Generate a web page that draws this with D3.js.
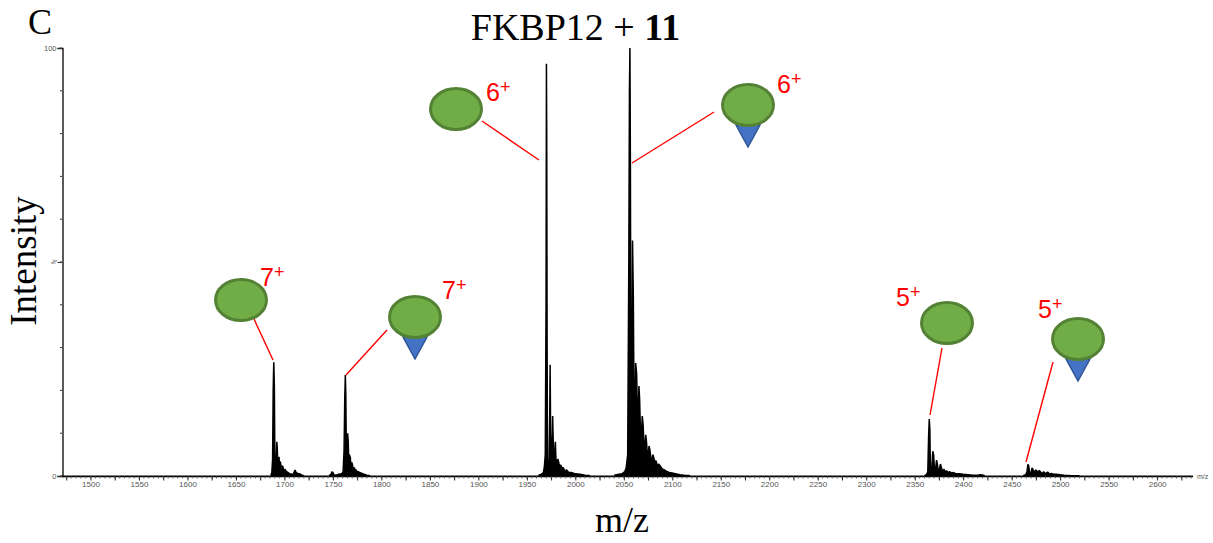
<!DOCTYPE html>
<html><head><meta charset="utf-8">
<script src="https://cdnjs.cloudflare.com/ajax/libs/d3/7.8.5/d3.min.js"></script>
<style>html,body{margin:0;padding:0;background:#fff}svg{display:block}</style></head>
<body><svg id="c" width="1213" height="543"></svg>
<script>
// m/z and relative intensity of the spectrum
const mz7a=[1686,1687,1687.8,1688.4,1689,1689.6,1690.2,1690.8,1691.5,1692.1,1692.6,1693.2,1693.8,1694.4,1695,1695.6,1696.2,1697,1698,1698.6,1699.6,1700.5,1701.5,1703,1705,1707,1709,1710,1711,1712,1714,1716,1718,1720];
const in7a=[0.2,0.8,4,20,26.6,21,2,1.5,3,8,6.5,1.5,2,4.5,1.2,3.4,2.8,1,2.4,2,0.8,1.6,1.2,0.9,0.6,0.4,0.4,0.9,1.4,0.8,0.6,0.5,0.2,0.1];
const mz7b=[1746,1748,1749,1750,1751,1753,1756,1759,1760.5,1761.5,1762.2,1762.8,1763.3,1763.9,1764.6,1765.2,1765.8,1766.4,1767,1768,1768.6,1769.4,1770.2,1771,1772,1773,1774,1775,1776,1778,1780,1782,1785,1788];
const in7b=[0.1,0.4,1,0.8,0.3,0.2,0.4,0.5,1,6,18,23.6,19,3,4,10,8,3,5,4.2,1.8,3.2,2.6,1.4,2,1.4,1.4,1,1,0.8,0.6,0.4,0.2,0.1];
const mz6a=[1962,1965,1967,1968,1969,1969.8,1970.2,1970.5,1970.9,1971.3,1972,1973,1973.6,1974,1974.5,1975.2,1976,1976.6,1977.1,1978,1978.8,1979.4,1980,1981,1982,1983,1984,1985,1986,1987.5,1989,1991,1993,1996,2000,2005,2010,2015];
const in6a=[0.2,0.4,0.8,2,5,40,96.3,80,30,4,3,4,14,26,10,3,6,14,9,3,5,8,4,3,4,3,2,2.6,1.8,2,1.2,1.4,0.9,0.8,0.5,0.4,0.2,0.1];
const mz6b=[2040,2045,2048,2051,2052.5,2054,2055.2,2055.8,2056.3,2056.8,2057.4,2058.2,2059,2059.8,2060.5,2061.3,2062.2,2063.2,2064,2064.8,2065.6,2066.3,2067.2,2068.1,2069,2069.9,2070.8,2071.7,2072.6,2073.4,2074.3,2075.2,2076,2077,2078,2079,2080,2081,2082,2083,2084,2085,2086,2088,2090,2092,2094,2097,2100,2104,2108,2112,2118];
const in6b=[0.2,0.4,0.5,1,2,5,52,90,100,72,8,16,55,42,18,14,26.4,24,15,13,21,18,10,9,14,12,7,7,9.6,8,5,5,7,6,4,3.6,5,4.2,3,3.6,2.9,2.2,2.8,2.2,1.6,1.4,1.1,0.8,0.7,0.5,0.3,0.2,0.1];
const mz5a=[2360,2362,2363.5,2364.3,2365,2365.6,2366.2,2367,2367.8,2368.6,2369.5,2370.5,2371.5,2372.5,2373.5,2374.5,2375.5,2376.5,2377.5,2379,2380,2381.5,2383,2384.5,2386,2388,2390,2393,2396,2400,2405,2410,2415,2418,2422];
const in5a=[0.1,0.3,1,9,13.3,11,1,1,2.5,5.8,5,1,1.5,3.7,2.6,0.9,1.5,2.8,2,0.8,1.6,1,1.2,0.8,1,0.7,0.8,0.5,0.5,0.4,0.3,0.2,0.2,0.3,0.1];
const mz5b=[2462,2464.5,2465.8,2466.7,2467.5,2468.5,2470,2471,2472,2473,2474.5,2476,2477,2478.5,2480,2481.5,2483,2485,2487,2489,2491,2493,2496,2500,2504,2510,2520];
const in5b=[0.1,0.3,1,2.7,2.4,0.8,0.7,1.9,1.5,0.7,1.4,1.2,0.7,1.3,0.9,0.5,1,0.5,0.9,0.5,0.6,0.4,0.4,0.3,0.2,0.1,0.05];
const xTickValues=d3.range(1475,2626,25);
const xMinorValues=d3.range(1475,2636,5);
const yTickValues=[0,50,100];
const yMinorValues=d3.range(0,101,10);
const xDomain=[1470.6,2637];
const yDomain=[0,100];
const ions=[
 {charge:"7",ligand:false},{charge:"7",ligand:true},
 {charge:"6",ligand:false},{charge:"6",ligand:true},
 {charge:"5",ligand:false},{charge:"5",ligand:true}];

// layout of the hand-placed annotations, in pixels (same order as ions)
const glyphAt=[[241,300],[415,317],[456,109],[748,105],[947,323],[1078,339]];
const labelAt=[[260,286],[442,299],[486,101],[777,93],[896,306],[1038,318]];
const leaderFrom=[[254,319],[387,330],[482,121],[714,112],[942,348],[1053,362]];
const leaderTo=[[273,360],[346,375],[539,160],[632,163],[930,415],[1026,462]];

const svg=d3.select("#c");
const x=d3.scaleLinear().domain(xDomain).range([62,1193]);
const y=d3.scaleLinear().domain(yDomain).range([476,48]);
const line=d3.line().x(d=>x(d[0])).y(d=>y(d[1]));

// baseline
svg.append("line").attr("x1",x.range()[0]).attr("x2",x.range()[1]).attr("y1",y(0)+0.3).attr("y2",y(0)+0.3)
   .attr("stroke","#000").attr("stroke-width",1.7);

// spectrum clusters
[[mz7a,in7a],[mz7b,in7b],[mz6a,in6a],[mz6b,in6b],[mz5a,in5a],[mz5b,in5b]].forEach(([m,v])=>{
  const pts=m.map((d,i)=>[d,v[i]]);
  svg.append("path").attr("d",d3.area().x(d=>x(d[0])).y0(y(0)).y1(d=>y(d[1]))(pts)).attr("fill","#000").attr("stroke","none");
  svg.append("path").attr("d",line(pts)).attr("fill","none").attr("stroke","#000").attr("stroke-width",1.5).attr("stroke-linejoin","bevel");
});

// y axis
const yAxis=d3.axisLeft(y).tickValues(yTickValues).tickSize(5).tickFormat(d=>d===50?"":d);
const gy=svg.append("g").attr("transform","translate(62.5,0)").call(yAxis);
gy.select(".domain").attr("stroke","#000").attr("stroke-width",1.3);
gy.selectAll("line").attr("stroke","#333");
gy.selectAll("text").attr("font-family","'Liberation Sans'").attr("font-size",7.5).attr("fill","#555").attr("dx",2);
svg.append("text").text("%").attr("transform",`translate(56,${y(50)+1}) rotate(-60)`).attr("text-anchor","middle")
   .attr("font-family","'Liberation Sans'").attr("font-size",6.5).attr("fill","#555");
svg.selectAll(".ym").data(yMinorValues).enter().append("line").attr("x1",60).attr("x2",62).attr("y1",d=>y(d)).attr("y2",d=>y(d)).attr("stroke","#333").attr("stroke-width",1);

// x axis
const xAxis=d3.axisBottom(x).tickValues(xTickValues).tickSize(4).tickPadding(1).tickFormat(d=>d%50===0?d3.format("d")(d):"");
const gx=svg.append("g").attr("transform",`translate(0,${y(0)+0.5})`).call(xAxis);
gx.select(".domain").remove();
gx.selectAll("line").attr("stroke","#222");
gx.selectAll("text").attr("font-family","'Liberation Sans'").attr("font-size",8).attr("fill","#555");
svg.selectAll(".xm").data(xMinorValues).enter().append("line").attr("x1",d=>x(d)).attr("x2",d=>x(d)).attr("y1",y(0)).attr("y2",y(0)+2.5).attr("stroke","#444").attr("stroke-width",0.8);
svg.append("text").text("m/z").attr("x",1197).attr("y",479).attr("font-family","'Liberation Sans'").attr("font-size",7).attr("fill","#555");

// titles
const serif="'Liberation Serif'";
svg.append("text").text("C").attr("x",28).attr("y",34).attr("font-family",serif).attr("font-size",36).attr("fill","#000");
const t=svg.append("text").attr("x",575.5).attr("y",40).attr("text-anchor","middle").attr("font-family",serif).attr("font-size",38).attr("fill","#000");
t.append("tspan").text("FKBP12 + ");
t.append("tspan").text("11").attr("font-weight","bold");
svg.append("text").text("Intensity").attr("transform","translate(36,261) rotate(-90)").attr("text-anchor","middle").attr("font-family",serif).attr("font-size",37).attr("fill","#000");
svg.append("text").text("m/z").attr("x",622).attr("y",532).attr("text-anchor","middle").attr("font-family",serif).attr("font-size",36).attr("fill","#000");

// annotations
ions.forEach((ion,i)=>{
  const [gx0,gy0]=glyphAt[i];
  svg.append("line").attr("x1",leaderFrom[i][0]).attr("y1",leaderFrom[i][1]).attr("x2",leaderTo[i][0]).attr("y2",leaderTo[i][1]).attr("stroke","#ff0000").attr("stroke-width",1.4);
  if(ion.ligand){
    svg.append("path").attr("d",`M${gx0-12},${gy0+20}L${gx0+12},${gy0+20}L${gx0},${gy0+42}Z`)
      .attr("fill","#4472c4").attr("stroke","#2f5597").attr("stroke-width",1.5);
  }
  svg.append("ellipse").attr("cx",gx0).attr("cy",gy0).attr("rx",25.5).attr("ry",20.5)
     .attr("fill","#70ad47").attr("stroke","#548235").attr("stroke-width",3);
  const l=svg.append("text").attr("x",labelAt[i][0]).attr("y",labelAt[i][1]).attr("font-family","'Liberation Sans'").attr("font-size",25).attr("fill","#ff0000");
  l.append("tspan").text(ion.charge);
  l.append("tspan").text("+").attr("font-size",18).attr("dy",-8);
});
</script></body></html>
